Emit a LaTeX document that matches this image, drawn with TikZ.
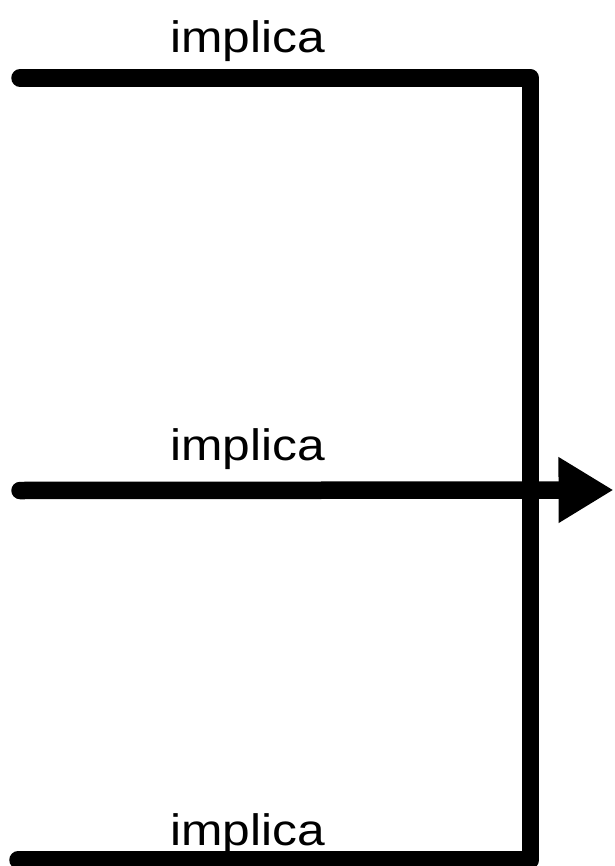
\documentclass[tikz,border=0pt]{standalone}
\usepackage{fontspec}
\setmainfont{Liberation Sans}
\usetikzlibrary{arrows.meta}
\tikzset{
  heavy/.style={line width=17.5pt, line cap=round, line join=round, draw=black},
  lbl/.style={inner sep=0pt, anchor=base west, font=\fontsize{44}{50}\selectfont},
}
\newcommand{\impl}{\scalebox{1.13}[1]{implica}}
\begin{document}
\begin{tikzpicture}[x=1pt,y=1pt]
\useasboundingbox (0,0) rectangle (614,-866);
\fill[white] (0,0) rectangle (614,-866);
% coordinates
\coordinate (a1) at (20,-78);
\coordinate (c1) at (530.5,-78);
\coordinate (c3) at (530.5,-860);
\coordinate (a3) at (18,-860);
\coordinate (a2) at (20,-490.5);
\coordinate (tip) at (613.5,-490);
% labels
\node[lbl] (t1) at (170,-53) {\impl};
\node[lbl] (t2) at (170,-460) {\impl};
\node[lbl] (t3) at (170,-845) {\impl};
% lines
\draw[heavy] (a1) -- (c1) -- (c3) -- (a3);
\draw[heavy, -{Triangle[length=55pt,width=62pt]}] (a2) -- (tip);
\end{tikzpicture}
\end{document}
